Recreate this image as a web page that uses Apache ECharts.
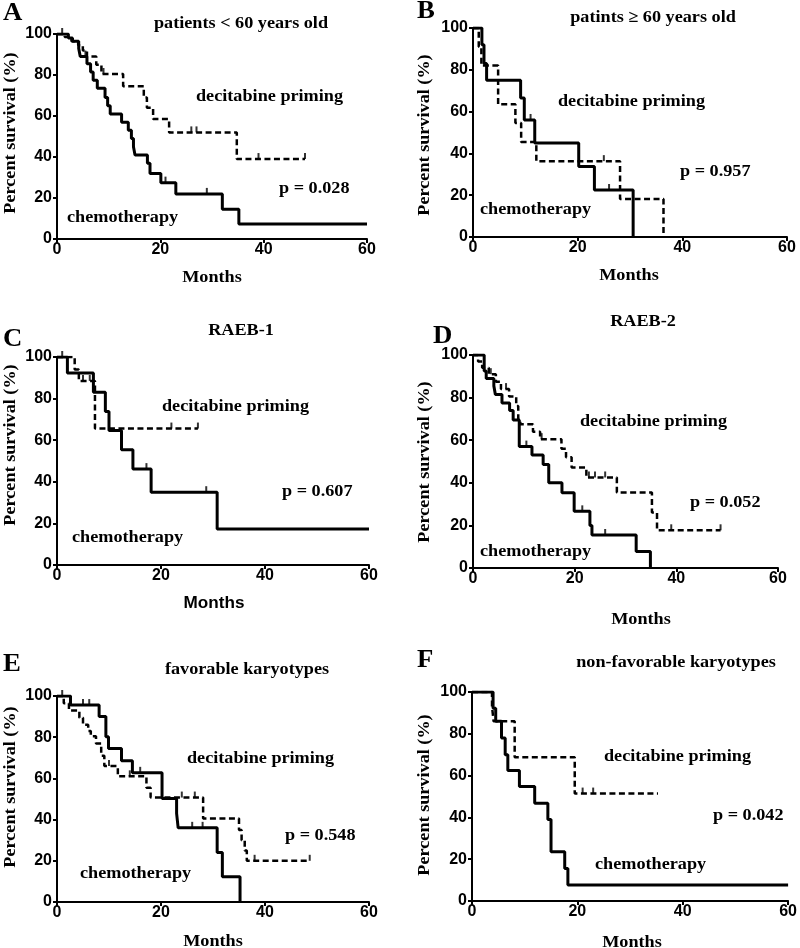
<!DOCTYPE html>
<html>
<head>
<meta charset="utf-8">
<script src="https://cdn.jsdelivr.net/npm/echarts@6/dist/echarts.min.js"></script>
<style>
html,body{margin:0;padding:0;background:#fff;}
#c{width:800px;height:948px;}
</style>
</head>
<body>
<div id="c"></div>
<script>
// ---- Data (months, percent survival) ----
var aChemo = [[0,100],[2.2,98],[3,96.5],[4.2,93],[4.5,89],[5.8,85.5],[6.5,81.5],[7,77.5],[7.8,73.5],[9.3,69],[9.8,65],[10.3,61],[12.5,57],[13.8,53],[14.4,49],[14.8,45],[15.1,41],[17.5,37],[18,32],[20.1,27.5],[23,22],[32,14.5],[35.2,7.3],[60,7.3]];
var aDeci = [[0,100],[1.5,98.5],[2.8,96.5],[4.1,94.5],[5,92],[5.8,89],[7.6,85],[8.6,80.5],[12.8,74.5],[16.8,69],[17.4,64],[18.6,58.5],[21.7,52],[34.8,39],[48,39]];
var aChemoCens = [[1,100],[21,27.5],[29,22]];
var aDeciCens = [[5.5,89],[9,80.5],[26,52],[27,52],[39,39],[48,39]];

var bChemo = [[0,100],[1.7,92],[2.1,83],[2.6,75],[9.1,66.5],[9.8,56],[11.8,45],[20.2,33.7],[23.2,22.5],[30.6,0]];
var bDeci = [[0,100],[1.1,91],[1.6,82],[4.8,63.5],[8.1,54.5],[9.2,45.5],[12.1,36.3],[28.1,18.2],[36.4,0]];
var bChemoCens = [[11,56],[26,22.5]];
var bDeciCens = [[25,36.3]];

var cChemo = [[0,100],[2,92.3],[7,83],[9.3,73.8],[10,64.7],[12.4,55.4],[14.6,46.1],[18.1,35],[30.8,17.3],[60,17.3]];
var cDeci = [[0,100],[3.4,94],[4.2,88.5],[7.3,65.6],[27.1,65.6]];
var cChemoCens = [[1,100],[17.2,46.1],[28.7,35]];
var cDeciCens = [[5,88.5],[6.3,88.5],[22,65.6],[27.1,65.6]];

var dChemo = [[0,100],[2.2,92.5],[2.6,89],[4.1,85.5],[4.4,81.5],[5.7,77.5],[7.2,74],[7.9,69.5],[9.1,57],[11.6,53],[13.8,48.6],[14.9,40],[17.5,35.3],[19.9,26.6],[23,20],[23.4,15.5],[32.1,7.8],[34.9,0]];
var dDeci = [[0,100],[1,97],[1.8,94],[3.1,91],[4.5,87.5],[5.5,84],[7.1,80.5],[8.5,76],[8.9,70],[9.3,67.5],[11.8,64],[13.2,60.5],[17.4,56],[18.3,52],[19.4,47.2],[22.3,42.5],[28.3,35.5],[35.2,26],[36.2,17.7],[48.7,17.7]];
var dChemoCens = [[10.5,57],[21.5,26.6],[26,15.5]];
var dDeciCens = [[3.5,91],[6.5,84],[13.5,60.5],[22.8,42.5],[24,42.5],[26,42.5],[39,17.7],[48.7,17.7]];

var eChemo = [[0,100],[2.6,95.6],[8.1,90],[9.4,80.2],[9.9,74.5],[12.4,68.6],[14.5,62.7],[20.2,50.2],[23,43],[23.3,36],[30.8,24],[31.8,12.2],[35.2,0]];
var eDeci = [[0,100],[1.3,96.5],[2.3,93],[4.3,89.5],[5,86],[6,83],[6.5,80.5],[7.5,77],[8.5,71],[9.1,66],[11.7,61],[17.2,55.5],[18,50.7],[28.1,40.5],[35,35],[35.5,30],[36.1,25],[36.5,20],[48.6,20]];
var eChemoCens = [[1,100],[5,95.6],[6.2,95.6],[16,62.7],[26,36],[28,36]];
var eDeciCens = [[10,66],[14,61],[24,50.7],[26.5,50.7],[38,20],[48.6,20]];

var fChemo = [[0,100],[4,92.2],[4.5,86],[5.6,78],[6.3,70],[6.8,62.5],[9,54.8],[11.9,46.8],[14.4,39],[15,23.6],[17.6,15.6],[18.2,7.6],[60,7.6]];
var fDeci = [[0,100],[3.8,93],[4.1,86],[8.1,68.8],[19.5,51.4],[35.3,51.4]];
var fChemoCens = [];
var fDeciCens = [[21,51.4],[23,51.4]];

var panelLetters = ['A','B','C','D','E','F'];
var panelTitles = ['patients < 60 years old','patints \u2265 60 years old','RAEB-1','RAEB-2','favorable karyotypes','non-favorable karyotypes'];
var pValues = ['p = 0.028','p = 0.957','p = 0.607','p = 0.052','p = 0.548','p = 0.042'];
var groupNames = ['decitabine priming','chemotherapy'];
var xTickInterval = 20, xMax = 60, yTickInterval = 20, yMax = 100;
var xAxisName = 'Months', yAxisName = 'Percent survival (%)';

// ---- Layout ----
var grids = [
  {left:57, top:34, width:310, height:205},
  {left:473, top:28, width:314, height:209},
  {left:57, top:357, width:312, height:208},
  {left:473, top:355, width:305, height:213},
  {left:57, top:696, width:312, height:206},
  {left:472, top:692, width:319, height:209}
];
var panelData = [
  [aChemo,aDeci,aChemoCens,aDeciCens],
  [bChemo,bDeci,bChemoCens,bDeciCens],
  [cChemo,cDeci,cChemoCens,cDeciCens],
  [dChemo,dDeci,dChemoCens,dDeciCens],
  [eChemo,eDeci,eChemoCens,eDeciCens],
  [fChemo,fDeci,fChemoCens,fDeciCens]
];
var textPos = [
  {L:[3,14], T:[241,24], D:[196,97], P:[279,189], C:[67,218], M:[212,278], Y:[11,133]},
  {L:[417,12], T:[653,18], D:[558,102], P:[680,172], C:[480,210], M:[629,276], Y:[425,135]},
  {L:[3,340], T:[241,331], D:[162,407], P:[282,492], C:[72,538], M:[214,604], Y:[11,445]},
  {L:[433,337], T:[643,322], D:[580,422], P:[690,503], C:[480,552], M:[641,620], Y:[425,462]},
  {L:[3,665], T:[247,670], D:[187,759], P:[285,836], C:[80,874], M:[213,942], Y:[11,787]},
  {L:[417,661], T:[676,663], D:[604,757], P:[713,816], C:[595,865], M:[632,943], Y:[425,795]}
];

var serifBold = 'bold 17px "Liberation Serif", "Times New Roman", serif';
var sx = 1.07;
var xAxes = [], yAxes = [], series = [], graphics = [];
var axisLine = {lineStyle:{color:'#000', width:2}};
var axisTick = {length:4, lineStyle:{color:'#000', width:2}};
var lbl = {color:'#000', fontWeight:'bold', fontSize:16, fontFamily:'"Liberation Sans", Arial, sans-serif'};

function txt(x, y, s, font, align, extra) {
  var g = {type:'text', x:x, y:y, scaleX:sx, style:{text:s, font:font, fill:'#000', textAlign:align, textVerticalAlign:'middle'}};
  if (extra) Object.assign(g, extra);
  return g;
}

for (var i = 0; i < 6; i++) {
  xAxes.push({gridIndex:i, type:'value', min:0, max:xMax, interval:xTickInterval,
    axisLine:axisLine, axisTick:axisTick, splitLine:{show:false},
    axisLabel:Object.assign({margin:3}, lbl)});
  yAxes.push({gridIndex:i, type:'value', min:0, max:yMax, interval:yTickInterval,
    axisLine:Object.assign({show:true}, axisLine), axisTick:Object.assign({show:true}, axisTick), splitLine:{show:false},
    axisLabel:Object.assign({margin:5}, lbl)});
  var d = panelData[i];
  series.push({type:'line', xAxisIndex:i, yAxisIndex:i, step:'end', data:d[0], showSymbol:false, silent:true,
    lineStyle:{color:'#000', width:3}, z:3});
  series.push({type:'line', xAxisIndex:i, yAxisIndex:i, step:'end', data:d[1], showSymbol:false, silent:true,
    lineStyle:{color:'#000', width:2.5, type:[6,3.5]}, z:2});
  series.push({type:'scatter', xAxisIndex:i, yAxisIndex:i, data:d[2], symbol:'rect', symbolSize:[2,6], symbolOffset:[0,-3],
    itemStyle:{color:'#000'}, silent:true, z:4});
  series.push({type:'scatter', xAxisIndex:i, yAxisIndex:i, data:d[3], symbol:'rect', symbolSize:[2,6], symbolOffset:[0,-3],
    itemStyle:{color:'#000'}, silent:true, z:4});

  var tp = textPos[i];
  graphics.push(txt(tp.L[0], tp.L[1], panelLetters[i], 'bold 25px "Liberation Serif", serif', 'left'));
  graphics.push(txt(tp.T[0], tp.T[1], panelTitles[i], serifBold, 'center'));
  graphics.push(txt(tp.D[0], tp.D[1], groupNames[0], serifBold, 'left'));
  graphics.push(txt(tp.P[0], tp.P[1], pValues[i], serifBold, 'left'));
  graphics.push(txt(tp.C[0], tp.C[1], groupNames[1], serifBold, 'left'));
  graphics.push(txt(tp.M[0], tp.M[1], xAxisName,
    i === 2 ? 'bold 16px "Liberation Sans", Arial, sans-serif' : serifBold, 'center'));
  graphics.push(txt(tp.Y[0], tp.Y[1], yAxisName, serifBold, 'center', {rotation:Math.PI/2}));
}

var chart = echarts.init(document.getElementById('c'), null, {renderer:'canvas'});
chart.setOption({
  backgroundColor:'#fff',
  animation:false,
  grid:grids,
  xAxis:xAxes,
  yAxis:yAxes,
  series:series,
  graphic:graphics
});
</script>
</body>
</html>
